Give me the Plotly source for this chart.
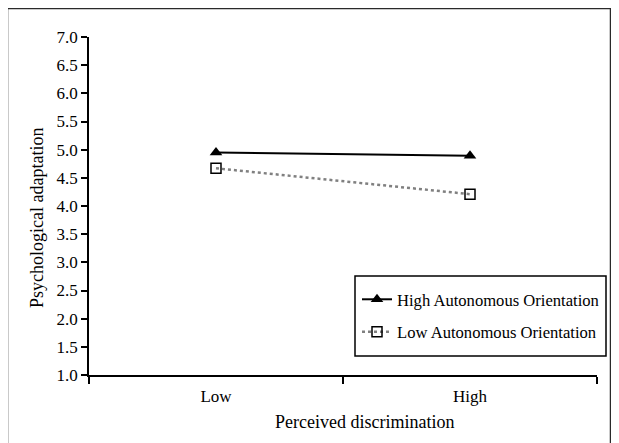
import plotly.graph_objects as go

categories = ["Low", "High"]
high_auto = [4.95, 4.89]
low_auto = [4.67, 4.21]
y_ticks = [1.0, 1.5, 2.0, 2.5, 3.0, 3.5, 4.0, 4.5, 5.0, 5.5, 6.0, 6.5, 7.0]

FONT = "Times New Roman"

fig = go.Figure()
fig.add_trace(go.Scatter(
    x=categories, y=high_auto, name="High Autonomous Orientation",
    mode="lines+markers", legendgroup="a",
    line=dict(color="black", width=2),
    marker=dict(symbol="triangle-up", size=11, color="black"),
))
fig.add_trace(go.Scatter(
    x=categories, y=low_auto, name="Low Autonomous Orientation",
    mode="lines+markers", legendgroup="b",
    line=dict(color="#808080", width=2.5, dash="dot"),
    marker=dict(symbol="square-open", size=10, color="black", line=dict(width=1.5)),
))

# page has an 8px body margin: figure origin sits at page (8, 8)
OFF = 8
W, H = 611, 435
L, R, T, B = 89 - OFF, 22, 37 - OFF, 68
pw = W - L - R
ph = H - T - B


def px(xp):
    return (xp - OFF - L) / pw


def py(yp):
    return (H - B - (yp - OFF)) / ph


fig.update_layout(
    width=W, height=H,
    margin=dict(l=L, r=R, t=T, b=B),
    paper_bgcolor="white", plot_bgcolor="white",
    font=dict(family=FONT, size=15, color="black"),
    showlegend=True,
    legend=dict(
        x=px(357), y=py(282), xanchor="left", yanchor="top",
        borderwidth=0, bgcolor="rgba(0,0,0,0)",
        font=dict(family=FONT, size=16.6, color="black"),
        itemwidth=30, tracegroupgap=8,
    ),
    xaxis=dict(
        type="category", range=[-0.5, 1.5], tickson="boundaries",
        showline=True, linecolor="black", linewidth=1.5,
        ticks="outside", ticklen=7, tickcolor="black", tickwidth=1.5,
        showgrid=False, zeroline=False, ticklabelstandoff=5,
        tickfont=dict(family=FONT, size=17),
    ),
    yaxis=dict(
        range=[1.0, 7.0], tickvals=y_ticks,
        ticktext=[f"{v:.1f}" for v in y_ticks],
        showline=True, linecolor="black", linewidth=1.5,
        ticks="outside", ticklen=6, tickcolor="black", tickwidth=1.5,
        showgrid=False, zeroline=False,
        tickfont=dict(family=FONT, size=17),
    ),
)

fig.add_annotation(
    text="Perceived discrimination", xref="paper", yref="paper",
    x=px(364), y=py(422), xanchor="center", yanchor="middle",
    showarrow=False, font=dict(family=FONT, size=18, color="black"),
)
fig.add_annotation(
    text="Psychological adaptation", xref="paper", yref="paper",
    x=px(37), y=py(218), xanchor="center", yanchor="middle", textangle=-90,
    showarrow=False, font=dict(family=FONT, size=18, color="black"),
)

# legend frame
fig.add_shape(
    type="rect", xref="paper", yref="paper",
    x0=px(355), x1=px(606), y0=py(356), y1=py(276),
    line=dict(color="black", width=1.5), fillcolor="white", layer="below",
)

# outer figure frame
fig.add_shape(
    type="rect", xref="paper", yref="paper",
    x0=px(7), x1=px(611),
    y0=py(470), y1=py(8),
    line=dict(color="#2a2a2a", width=2.5), fillcolor="rgba(0,0,0,0)", layer="above",
)

fig.write_html("out.html")
